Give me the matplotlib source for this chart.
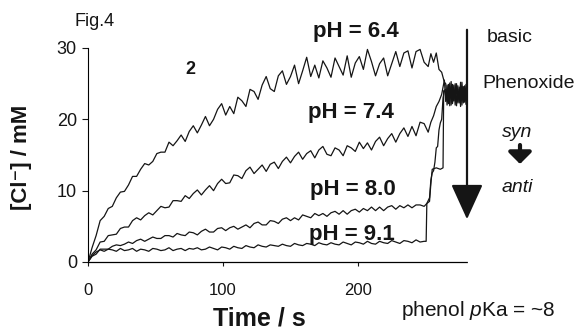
import numpy as np
import matplotlib
matplotlib.use('Agg')
from matplotlib import pyplot as plt

plt.rcParams['font.family'] = ['Liberation Sans', 'DejaVu Sans']
plt.rcParams['mathtext.fontset'] = 'custom'
plt.rcParams['mathtext.rm'] = 'Liberation Sans'
plt.rcParams['mathtext.it'] = 'Liberation Sans:italic'

# slow part of every trace, sampled every 3 s (0 .. 249 s)
time_s = np.arange(0, 250, 3)
# noisy plateau at the end, every 1 s
band_time = np.arange(265, 282, 1)

ph64 = [0, 2.0, 3.7, 5.8, 6.4, 7.5, 7.8, 9.0, 9.8, 9.9, 10.8, 12.0,
        12.0, 13.0, 13.8, 13.6, 14.1, 15.2, 15.4, 15.4, 16.8, 16.3, 17.0, 17.8,
        16.9, 18.3, 19.1, 18.1, 19.2, 20.4, 19.1, 20.0, 21.4, 22.2, 20.6, 21.8,
        20.8, 23.1, 22.6, 21.8, 24.2, 23.9, 22.8, 24.8, 26.0, 24.3, 23.9, 26.1,
        26.8, 24.9, 26.0, 27.6, 25.0, 26.8, 28.7, 26.0, 27.6, 25.8, 28.2, 27.2,
        25.9, 28.6, 27.4, 26.2, 28.9, 25.9, 27.9, 28.8, 27.0, 29.8, 28.1, 26.1,
        27.8, 28.6, 26.1, 27.8, 29.5, 27.4, 29.3, 29.6, 27.2, 29.5, 29.8, 28.0]
ph64_jump_t = [252, 254, 256, 258, 260, 262, 264]
ph64_jump = [27.4, 29.2, 28.0, 29.3, 27.0, 26.6, 25.2]
ph64_band = [25.0, 22.0, 24.6, 21.9, 25.3, 22.4, 24.8, 22.0, 25.0,
             22.3, 24.5, 21.8, 25.2, 22.5, 24.7, 22.1, 23.8]

ph74 = [0, 1.1, 1.7, 2.8, 2.9, 3.7, 3.8, 3.9, 4.7, 4.9, 4.9, 5.8,
        6.2, 5.9, 6.5, 6.9, 6.6, 7.2, 7.8, 7.6, 7.7, 8.6, 8.6, 8.5,
        9.3, 8.9, 9.6, 10.1, 9.4, 10.1, 10.7, 10.0, 11.0, 11.6, 11.0, 11.1,
        12.2, 12.1, 11.7, 12.8, 13.3, 12.4, 13.0, 13.6, 12.7, 13.7, 14.0, 13.1,
        14.1, 14.7, 13.9, 14.8, 15.4, 14.4, 15.2, 15.6, 14.6, 15.7, 16.2, 15.1,
        14.9, 16.0, 15.7, 14.9, 16.3, 16.0, 15.5, 16.8, 15.9, 16.7, 15.7, 16.9,
        17.5, 16.3, 17.3, 18.0, 16.8, 18.0, 18.8, 17.6, 19.0, 17.7, 19.6, 19.4]
ph74_jump_t = [252, 254, 256, 258, 260, 262, 264]
ph74_jump = [18.2, 19.6, 20.5, 21.8, 22.5, 23.5, 25.5]
ph74_band = [22.5, 24.8, 22.2, 25.1, 22.0, 24.5, 22.6, 25.0, 21.9,
             24.7, 22.3, 25.2, 22.0, 24.6, 22.4, 24.9, 22.2]

ph80 = [0, 0.8, 1.1, 1.8, 1.8, 1.8, 2.2, 2.4, 2.3, 2.5, 2.8, 2.6,
        3.0, 3.2, 2.9, 3.2, 3.5, 3.3, 3.3, 3.7, 3.7, 3.5, 4.0, 3.8,
        3.7, 4.2, 4.1, 3.8, 4.3, 4.6, 4.2, 4.2, 4.7, 4.8, 4.4, 4.8,
        5.0, 4.6, 4.9, 5.2, 4.8, 5.4, 5.6, 5.2, 5.2, 5.8, 5.7, 5.4,
        6.0, 6.2, 5.8, 6.2, 5.9, 6.6, 6.4, 6.2, 6.8, 6.5, 6.8, 6.4,
        6.9, 7.1, 6.7, 7.2, 6.7, 7.2, 7.4, 7.0, 7.5, 7.2, 7.7, 7.2,
        7.7, 7.2, 7.7, 7.9, 7.4, 7.9, 7.6, 8.0, 7.6, 8.0, 8.0, 7.8]
ph80_jump_t = [251, 253, 254, 255, 256, 257, 258, 259, 260, 261, 262, 263, 264]
ph80_jump = [8.2, 9.0, 11.5, 12.5, 12.8, 14.0, 16.0, 16.2, 18.5, 19.5, 20.0, 23.0, 24.0]
ph80_band = [23.8, 22.6, 24.9, 23.0, 24.4, 22.2, 24.0, 23.3, 24.8,
             22.5, 24.2, 22.9, 24.6, 22.3, 24.1, 23.1, 24.5]

ph91 = [0, 0.9, 1.4, 1.7, 1.5, 1.8, 1.7, 1.5, 1.9, 1.6, 1.7, 1.9,
        1.5, 1.8, 1.7, 1.5, 1.9, 1.8, 1.6, 1.7, 2.0, 1.6, 1.8, 1.9,
        1.6, 1.9, 1.8, 2.0, 1.7, 1.8, 2.1, 1.9, 1.7, 2.1, 2.0, 1.8,
        2.2, 2.0, 1.9, 2.3, 2.1, 2.0, 2.4, 2.2, 2.1, 2.4, 2.3, 2.2,
        2.5, 2.3, 2.2, 2.6, 2.4, 2.3, 2.6, 2.5, 2.3, 2.7, 2.5, 2.4,
        2.7, 2.5, 2.4, 2.8, 2.6, 2.4, 2.8, 2.7, 2.5, 2.9, 2.6, 2.5,
        2.9, 2.7, 2.6, 3.0, 2.8, 2.6, 3.0, 2.9, 2.7, 3.1, 2.8, 2.9]
ph91_jump_t = [250.5, 251, 253, 254, 255, 258, 261, 263, 263.5]
ph91_jump = [2.9, 8.2, 8.5, 11.0, 13.0, 13.2, 13.0, 13.2, 24.0]
ph91_band = [24.2, 23.0, 22.4, 24.6, 23.2, 24.9, 22.6, 23.8, 24.4,
             22.8, 23.5, 24.7, 22.9, 24.1, 23.4, 22.7, 24.3]

traces = [
    (ph64, ph64_jump_t, ph64_jump, ph64_band),
    (ph74, ph74_jump_t, ph74_jump, ph74_band),
    (ph80, ph80_jump_t, ph80_jump, ph80_band),
    (ph91, ph91_jump_t, ph91_jump, ph91_band),
]

W, H = 576, 331
fig = plt.figure(figsize=(W / 100, H / 100), dpi=100)
ax = fig.add_axes([88 / W, 1 - 262 / H, 380 / W, 214 / H])

for vals, jt, jv, bv in traces:
    t = np.concatenate([time_s, jt, band_time])
    c = np.concatenate([vals, jv, bv])
    ax.plot(t, c, color='#151515', lw=0.9)

ax.set_xlim(0, 281.5)
ax.set_ylim(0, 30)
ax.set_xticks([0, 100, 200])
ax.set_yticks([0, 10, 20, 30])
ax.spines['top'].set_visible(False)
ax.spines['right'].set_visible(False)
ax.spines['bottom'].set_linestyle((0, (1, 1)))
ax.spines['bottom'].set_linewidth(0.9)
ax.tick_params(axis='x', direction='out', length=3, width=0.8, pad=12,
               labelsize=12, colors='#151515')
ax.tick_params(axis='y', direction='out', length=4, width=0.8, pad=4,
               labelsize=13, colors='#151515')

def ftext(x, y, s, **kw):
    fig.text(x / W, 1 - y / H, s, color='#151515', va='baseline', **kw)

ftext(259, 326, 'Time / s', fontsize=18, fontweight='bold', ha='center')
fig.text(22 / W, 1 - 157 / H, '[Cl⁻] / mM', fontsize=16, fontweight='bold',
         rotation=90, ha='center', va='center', color='#151515')
ftext(95, 26, 'Fig.4', fontsize=13, ha='center')
ftext(190, 74, '2', fontsize=13, fontweight='bold', ha='center')
ftext(356, 37, 'pH = 6.4', fontsize=16, fontweight='bold', ha='center')
ftext(351, 118, 'pH = 7.4', fontsize=16, fontweight='bold', ha='center')
ftext(353, 195, 'pH = 8.0', fontsize=16, fontweight='bold', ha='center')
ftext(352, 240, 'pH = 9.1', fontsize=16, fontweight='bold', ha='center')
ftext(487, 42, 'basic', fontsize=14, ha='left')
ftext(482, 88, 'Phenoxide', fontsize=14, ha='left')
ftext(517, 137, 'syn', fontsize=14, style='italic', ha='center')
ftext(517, 192, 'anti', fontsize=14, style='italic', ha='center')
ftext(478, 316, 'phenol $\\it{p}$Ka = ~8', fontsize=15, ha='center')

# big arrow on the right edge of the plot
ax.annotate('', xy=(467, H - 222), xytext=(467, H - 27),
            xycoords='figure pixels', textcoords='figure pixels',
            arrowprops=dict(arrowstyle='-|>,head_length=1.1,head_width=0.5',
                            lw=1.6, color='#151515', mutation_scale=20))
# small bold arrow between syn and anti
ax.annotate('', xy=(520, H - 164), xytext=(520, H - 145),
            xycoords='figure pixels', textcoords='figure pixels',
            arrowprops=dict(arrowstyle='-|>,head_length=0.5,head_width=0.5',
                            lw=3, color='#151515', mutation_scale=14,
                            shrinkA=0, shrinkB=0))

fig.savefig('out.png', dpi=100)
